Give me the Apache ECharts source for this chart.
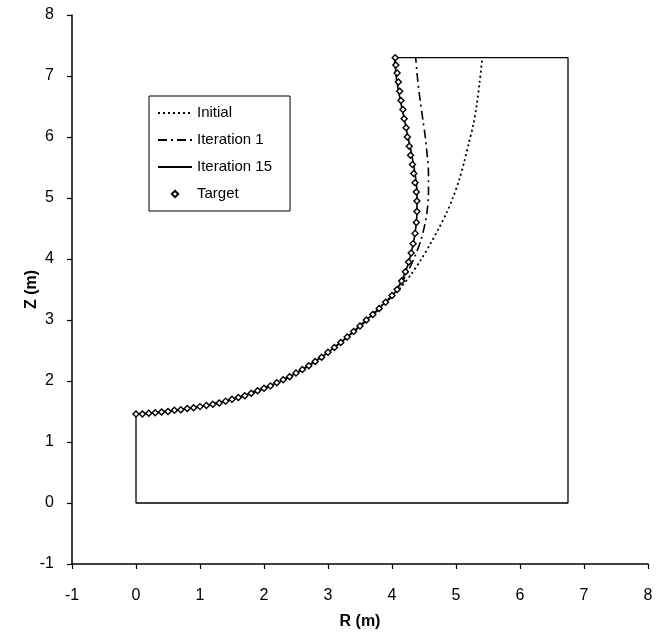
<!DOCTYPE html>
<html>
<head>
<meta charset="utf-8">
<script src="https://cdn.jsdelivr.net/npm/echarts@6/dist/echarts.min.js"></script>
<style>
html,body{margin:0;padding:0;background:#fff;}
#chart{width:656px;height:639px;}
</style>
</head>
<body>
<div id="chart"></div>
<script>
// ---- data ----
const xTicks = [-1, 0, 1, 2, 3, 4, 5, 6, 7, 8];
const yTicks = [-1, 0, 1, 2, 3, 4, 5, 6, 7, 8];

const targetR = [0, 0.1, 0.2, 0.3, 0.4, 0.5, 0.6, 0.7, 0.8, 0.9, 1.0, 1.1, 1.2, 1.3, 1.4, 1.5, 1.6, 1.7, 1.8, 1.9,
  2.0, 2.1, 2.2, 2.3, 2.4, 2.5, 2.6, 2.7, 2.8, 2.9, 3.0, 3.1, 3.2, 3.3, 3.4, 3.5, 3.6, 3.7, 3.8, 3.9,
  4.0, 4.08, 4.15, 4.21, 4.26, 4.3, 4.33, 4.36, 4.38, 4.39, 4.39, 4.38, 4.36, 4.34, 4.32, 4.29, 4.27, 4.24,
  4.22, 4.19, 4.17, 4.14, 4.12, 4.10, 4.08, 4.06, 4.05];
const targetZ = [1.46, 1.46, 1.47, 1.48, 1.49, 1.50, 1.52, 1.53, 1.55, 1.56, 1.58, 1.60, 1.62, 1.64, 1.67, 1.70, 1.73, 1.76, 1.80, 1.84,
  1.88, 1.92, 1.97, 2.02, 2.07, 2.13, 2.19, 2.25, 2.32, 2.39, 2.47, 2.55, 2.63, 2.72, 2.81, 2.90, 3.00, 3.09, 3.19, 3.29,
  3.40, 3.50, 3.64, 3.79, 3.95, 4.10, 4.25, 4.42, 4.60, 4.78, 4.95, 5.10, 5.25, 5.40, 5.55, 5.70, 5.85, 6.00,
  6.15, 6.30, 6.45, 6.60, 6.75, 6.90, 7.05, 7.18, 7.30];

const iter15R = [0, 0.3, 0.6, 0.9, 1.2, 1.5, 1.8, 2.1, 2.4, 2.7, 3.0, 3.3, 3.6, 3.85, 4.05, 4.2, 4.3, 4.36, 4.39, 4.39, 4.36, 4.31, 4.25, 4.19, 4.13, 4.07, 4.04];
const iter15Z = [1.46, 1.48, 1.52, 1.56, 1.62, 1.70, 1.80, 1.92, 2.07, 2.25, 2.47, 2.72, 3.00, 3.24, 3.46, 3.76, 4.10, 4.42, 4.78, 5.10, 5.40, 5.70, 6.00, 6.30, 6.60, 6.95, 7.30];

const iter1R = [0, 0.5, 1.0, 1.5, 2.0, 2.5, 3.0, 3.5, 3.9, 4.1, 4.25, 4.36, 4.45, 4.51, 4.55, 4.57, 4.57, 4.55, 4.52, 4.48, 4.44, 4.40, 4.37];
const iter1Z = [1.46, 1.50, 1.58, 1.70, 1.88, 2.13, 2.47, 2.90, 3.28, 3.52, 3.80, 4.05, 4.30, 4.55, 4.80, 5.10, 5.40, 5.70, 6.00, 6.30, 6.60, 6.95, 7.30];

const initialR = [0, 0.5, 1.0, 1.5, 2.0, 2.5, 3.0, 3.5, 3.9, 4.15, 4.3, 4.46, 4.6, 4.73, 4.85, 4.95, 5.05, 5.13, 5.2, 5.27, 5.32, 5.37, 5.41];
const initialZ = [1.46, 1.50, 1.58, 1.70, 1.88, 2.13, 2.47, 2.90, 3.30, 3.55, 3.75, 4.00, 4.25, 4.50, 4.75, 5.00, 5.30, 5.60, 5.90, 6.20, 6.50, 6.90, 7.30];

const boundaryR = [4.05, 6.75, 6.75, 0, 0];
const boundaryZ = [7.30, 7.30, 0, 0, 1.46];

const seriesNames = ['Initial', 'Iteration 1', 'Iteration 15', 'Target'];

function zip(a, b) { return a.map((v, i) => [v, b[i]]); }

const FONT = '"Liberation Sans", Arial, sans-serif';
const chart = echarts.init(document.getElementById('chart'), null, {renderer: 'canvas'});

const hidden = {opacity: 0};

chart.setOption({
  animation: false,
  backgroundColor: '#fff',
  grid: {left: 72, right: 8, top: 15, bottom: 75, containLabel: false},
  xAxis: {
    type: 'value', min: xTicks[0], max: xTicks[xTicks.length - 1], interval: 1,
    name: 'R (m)', nameLocation: 'middle', nameGap: 50,
    nameTextStyle: {fontFamily: FONT, fontSize: 16, fontWeight: 'bold', color: '#000'},
    axisLine: {onZero: false, lineStyle: {color: '#000', width: 1.5}},
    axisTick: {show: true, length: 5, lineStyle: {color: '#000', width: 1.2}},
    axisLabel: {fontFamily: FONT, fontSize: 16, color: '#000', margin: 24},
    splitLine: {show: false}
  },
  yAxis: {
    type: 'value', min: yTicks[0], max: yTicks[yTicks.length - 1], interval: 1,
    name: 'Z (m)', nameLocation: 'middle', nameGap: 32, nameRotate: 90, nameMoveOverlap: false,
    nameTextStyle: {fontFamily: FONT, fontSize: 16, fontWeight: 'bold', color: '#000'},
    axisLine: {show: true, onZero: false, lineStyle: {color: '#000', width: 1.5}},
    axisTick: {show: true, length: 5, lineStyle: {color: '#000', width: 1.2}},
    axisLabel: {fontFamily: FONT, fontSize: 16, color: '#000', margin: 18},
    splitLine: {show: false}
  },
  legend: {
    data: [
      {name: seriesNames[0], itemStyle: hidden},
      {name: seriesNames[1], itemStyle: hidden},
      {name: seriesNames[2], itemStyle: hidden},
      {name: seriesNames[3]}
    ],
    orient: 'vertical',
    left: 149, top: 96,
    backgroundColor: '#fff',
    borderColor: '#000', borderWidth: 1,
    padding: [9, 18, 9, 8],
    itemWidth: 34, itemHeight: 8, itemGap: 11,
    textStyle: {fontFamily: FONT, fontSize: 15, color: '#000', lineHeight: 16}
  },
  series: [
    {
      name: 'Boundary', type: 'line', data: zip(boundaryR, boundaryZ),
      symbol: 'none', lineStyle: {color: '#000', width: 1.3}, z: 1
    },
    {
      name: seriesNames[0], type: 'line', data: zip(initialR, initialZ),
      symbol: 'none', smooth: 0.3,
      lineStyle: {color: '#000', width: 1.8, type: [2, 3]}, itemStyle: {color: '#000'}, z: 2
    },
    {
      name: seriesNames[1], type: 'line', data: zip(iter1R, iter1Z),
      symbol: 'none', smooth: 0.3,
      lineStyle: {color: '#000', width: 1.6, type: [9, 4, 2, 4]}, itemStyle: {color: '#000'}, z: 3
    },
    {
      name: seriesNames[2], type: 'line', data: zip(iter15R, iter15Z),
      symbol: 'none', smooth: 0.3,
      lineStyle: {color: '#000', width: 1.6}, itemStyle: {color: '#000'}, z: 4
    },
    {
      name: seriesNames[3], type: 'line', data: zip(targetR, targetZ),
      symbol: 'diamond', symbolSize: 6, showSymbol: true,
      lineStyle: {width: 0, opacity: 0},
      itemStyle: {color: '#fff', borderColor: '#000', borderWidth: 1.4}, z: 5
    }
  ]
});
</script>
</body>
</html>
